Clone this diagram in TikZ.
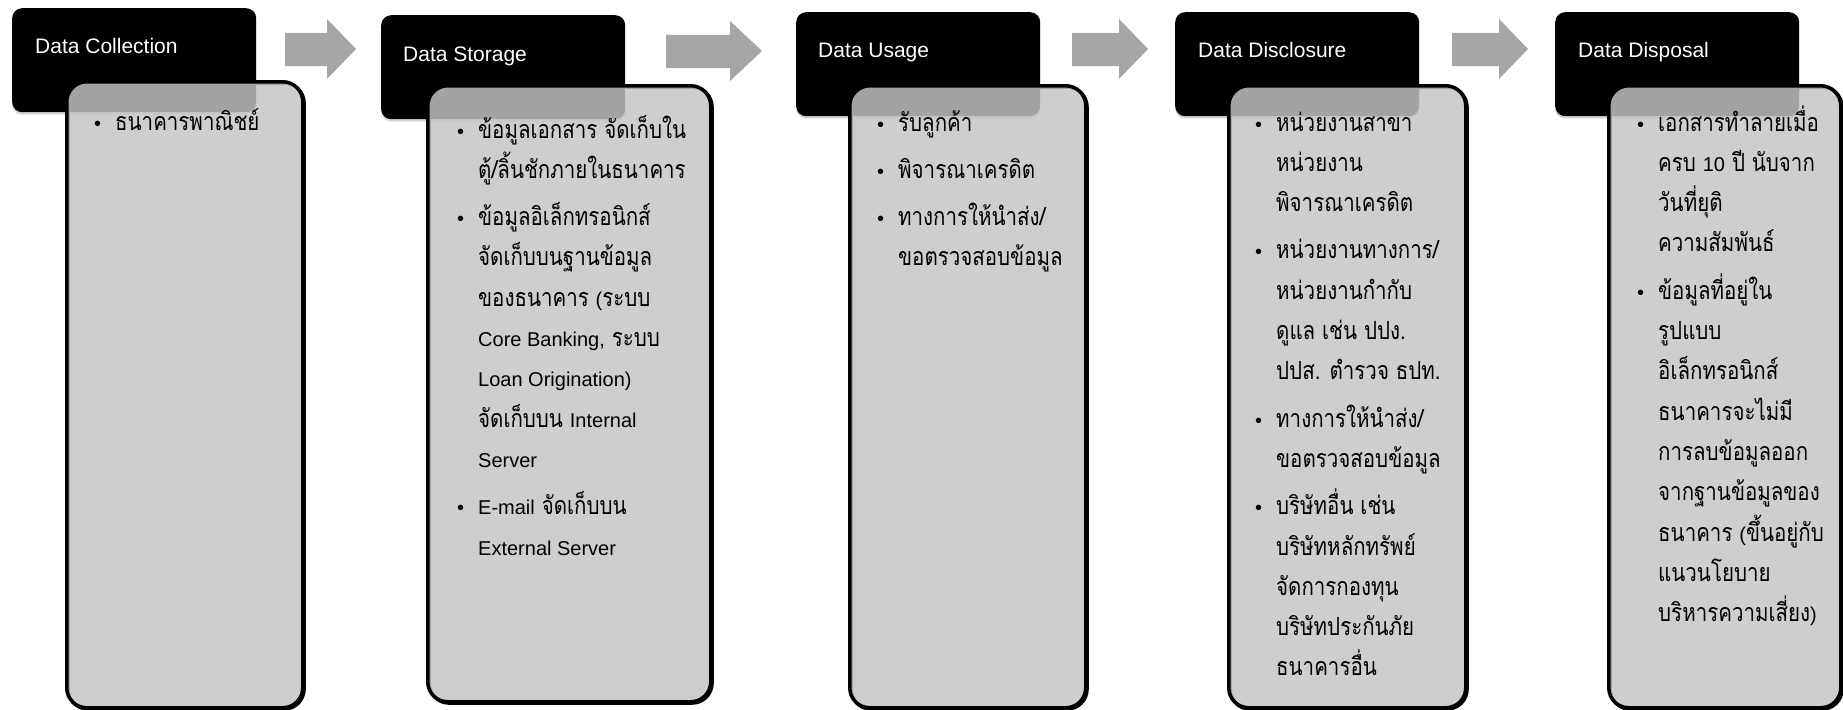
\documentclass[tikz,border=0pt]{standalone}
\usepackage{fontspec}
\setmainfont{Liberation Sans}
\newfontfamily\latinfont{Liberation Sans}
\newfontfamily\thaifont[Script=Thai,FakeStretch=0.82]{Loma}
\usetikzlibrary{shadows}

\definecolor{arrowgray}{RGB}{166,166,166}
\definecolor{boxgray}{RGB}{197,197,197}

% Latin words inside Thai lines
\newcommand{\en}[1]{{\latinfont\fontsize{20}{24}\selectfont #1}}
% bullet list: rows "bullet & text \cr", fixed line pitch
\newcommand{\bulletlist}[1]{\vtop{\baselineskip=40.3pt\lineskip=0pt\lineskiplimit=-100pt
  \halign{\hbox to 21pt{\latinfont\fontsize{20}{24}\selectfont##\hfil}&##\hfil\cr #1\crcr}}}
\newcommand{\gap}{\noalign{\vskip 7pt}}

\tikzset{
  hdr/.style={rectangle, rounded corners=10pt, fill=black, inner sep=0pt, anchor=north west,
    minimum width=244pt, minimum height=104pt,
    drop shadow={shadow xshift=0pt, shadow yshift=-2.5pt, opacity=0.3}},
  hdrtext/.style={text=white, font=\latinfont\fontsize{21}{25}\selectfont, inner sep=0pt, anchor=base west},
  infobox/.style={rectangle, rounded corners=20pt, draw=black, line width=3.5pt,
    fill=boxgray, fill opacity=0.83, inner sep=0pt, anchor=north west,
    preaction={draw=black, line width=3.5pt, fill=none, transform canvas={xshift=1.3pt, yshift=-1.3pt}}},
  listtext/.style={font=\thaifont\fontsize{25}{30}\selectfont, inner sep=0pt, anchor=base west, text=black},
  blockarrow/.style={fill=arrowgray}
}

\begin{document}
\begin{tikzpicture}[x=1pt,y=-1pt]
\useasboundingbox (0,0) rectangle (1843,709);
\fill[white] (0,0) rectangle (1843,709);

% stage headers
\node[hdr] (h1) at (12,8) {};
\node[hdr] (h2) at (381,15) {};
\node[hdr] (h3) at (796,12) {};
\node[hdr] (h4) at (1175,12) {};
\node[hdr] (h5) at (1555,12) {};

\node[hdrtext] (t1) at (35,53) {Data Collection};
\node[hdrtext] (t2) at (403,61) {Data Storage};
\node[hdrtext] (t3) at (818,58) {Data Usage};
\node[hdrtext] (t4) at (1198,58) {Data Disclosure};
\node[hdrtext] (t5) at (1578,58) {Data Disposal};

% block arrows between the stages
\fill[blockarrow] (285,33) -- (327,33) -- (327,19) -- (356,49) -- (327,79) -- (327,66) -- (285,66) -- cycle;
\fill[blockarrow] (666,35) -- (730,35) -- (730,21) -- (762,51) -- (730,81) -- (730,68) -- (666,68) -- cycle;
\fill[blockarrow] (1072,33) -- (1119,33) -- (1119,19) -- (1148,49) -- (1119,79) -- (1119,66) -- (1072,66) -- cycle;
\fill[blockarrow] (1452,33) -- (1499,33) -- (1499,19) -- (1528,49) -- (1499,79) -- (1499,66) -- (1452,66) -- cycle;

% content panels
\node[infobox, minimum width=236pt, minimum height=626pt] (b1) at (65,80) {};
\node[infobox, minimum width=283pt, minimum height=616pt] (b2) at (426,84) {};
\node[infobox, minimum width=236pt, minimum height=622pt] (b3) at (848,84) {};
\node[infobox, minimum width=237pt, minimum height=622pt] (b4) at (1227,84) {};
\node[infobox, minimum width=232pt, minimum height=622pt] (b5) at (1607,84) {};

% panel texts
\node[listtext] (l1) at (94,130) {\bulletlist{•&ธนาคารพาณิชย์\cr}};

\node[listtext] (l2) at (457,138) {\bulletlist{%
•&ข้อมูลเอกสาร จัดเก็บใน\cr
&ตู้/ลิ้นชักภายในธนาคาร\cr\gap
•&ข้อมูลอิเล็กทรอนิกส์\cr
&จัดเก็บบนฐานข้อมูล\cr
&ของธนาคาร \en{(}ระบบ\cr
&\en{Core Banking,} ระบบ\cr
&\en{Loan Origination)}\cr
&จัดเก็บบน \en{Internal}\cr
&\en{Server}\cr\gap
•&\en{E-mail} จัดเก็บบน\cr
&\en{External Server}\cr}};

\node[listtext] (l3) at (877,131) {\bulletlist{%
•&รับลูกค้า\cr\gap
•&พิจารณาเครดิต\cr\gap
•&ทางการให้นำส่ง/\cr
&ขอตรวจสอบข้อมูล\cr}};

\node[listtext] (l4) at (1255,131) {\bulletlist{%
•&หน่วยงานสาขา\cr
&หน่วยงาน\cr
&พิจารณาเครดิต\cr\gap
•&หน่วยงานทางการ/\cr
&หน่วยงานกำกับ\cr
&ดูแล เช่น ปปง.\cr
&ปปส. ตำรวจ ธปท.\cr\gap
•&ทางการให้นำส่ง/\cr
&ขอตรวจสอบข้อมูล\cr\gap
•&บริษัทอื่น เช่น\cr
&บริษัทหลักทรัพย์\cr
&จัดการกองทุน\cr
&บริษัทประกันภัย\cr
&ธนาคารอื่น\cr}};

\node[listtext] (l5) at (1637,131) {\bulletlist{%
•&เอกสารทำลายเมื่อ\cr
&ครบ \en{10} ปี นับจาก\cr
&วันที่ยุติ\cr
&ความสัมพันธ์\cr\gap
•&ข้อมูลที่อยู่ใน\cr
&รูปแบบ\cr
&อิเล็กทรอนิกส์\cr
&ธนาคารจะไม่มี\cr
&การลบข้อมูลออก\cr
&จากฐานข้อมูลของ\cr
&ธนาคาร \en{(}ขึ้นอยู่กับ\cr
&แนวนโยบาย\cr
&บริหารความเสี่ยง\en{)}\cr}};
\end{tikzpicture}
\end{document}
